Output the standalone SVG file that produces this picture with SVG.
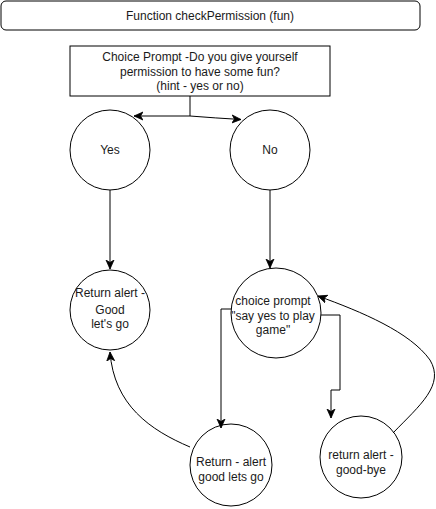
<svg xmlns="http://www.w3.org/2000/svg" width="436" height="509" viewBox="0 0 436 509">
<style>
.shape{fill:#fff;stroke:#000;stroke-width:1}
.edge{fill:none;stroke:#000;stroke-width:1}
text{font-family:"Liberation Sans",Arial,sans-serif;font-size:12px;fill:#1a1a1a;text-anchor:middle}
</style>
<defs>
<marker id="arr" markerUnits="userSpaceOnUse" markerWidth="10" markerHeight="10" viewBox="0 0 10 10" refX="9" refY="5" orient="auto">
<path d="M0,1 L9,5 L0,9 L2.5,5 Z" fill="#000" stroke="#000" stroke-width="0.8"/>
</marker>
</defs>
<rect width="436" height="509" fill="#fff"/>
<g id="title">
<rect class="shape" x="1" y="1" width="419" height="29" rx="5"/>
<text x="210" y="20">Function checkPermission (fun)</text>
</g>
<g id="choice">
<rect class="shape" x="70" y="46" width="260" height="50"/>
<text x="200" y="61">Choice Prompt -Do you give yourself</text>
<text x="200" y="76">permission to have some fun?</text>
<text x="200" y="90">(hint - yes or no)</text>
</g>
<g id="yes">
<circle class="shape" cx="110" cy="150" r="40"/>
<text x="110" y="154">Yes</text>
</g>
<g id="no">
<circle class="shape" cx="270" cy="150" r="40"/>
<text x="270" y="154">No</text>
</g>
<g id="returnGood">
<circle class="shape" cx="110" cy="310" r="40"/>
<text x="110" y="297">Return alert -</text>
<text x="110" y="314">Good</text>
<text x="110" y="328">let's go</text>
</g>
<g id="choice2">
<circle class="shape" cx="276" cy="313" r="45"/>
<text x="273" y="305">choice prompt</text>
<text x="273" y="320">"say yes to play</text>
<text x="273" y="334">game"</text>
</g>
<g id="returnLets">
<circle class="shape" cx="231" cy="465" r="41"/>
<text x="231" y="466">Return - alert</text>
<text x="231" y="481">good lets go</text>
</g>
<g id="goodbye">
<circle class="shape" cx="361" cy="457" r="41"/>
<text x="361" y="459">return alert -</text>
<text x="361" y="474">good-bye</text>
</g>
<g id="connectors">
<path class="edge" d="M190,96 L190,116 L134,116" marker-end="url(#arr)"/>
<path class="edge" d="M190,116 Q215,118 241,119.5" marker-end="url(#arr)"/>
<path class="edge" d="M110,190 L110,269" marker-end="url(#arr)"/>
<path class="edge" d="M270,190 L270,268" marker-end="url(#arr)"/>
<path class="edge" d="M231,309 L221,309 L221,428" marker-end="url(#arr)"/>
<path class="edge" d="M321,315 L340,315 L340,390 L331,390 L331,418" marker-end="url(#arr)"/>
<path class="edge" d="M190,447 C150,430 114,405 110,352" marker-end="url(#arr)"/>
<path class="edge" d="M393,433 C420,405 445,385 430,360 C410,332 362,312 318,296" marker-end="url(#arr)"/>
</g>
</svg>
